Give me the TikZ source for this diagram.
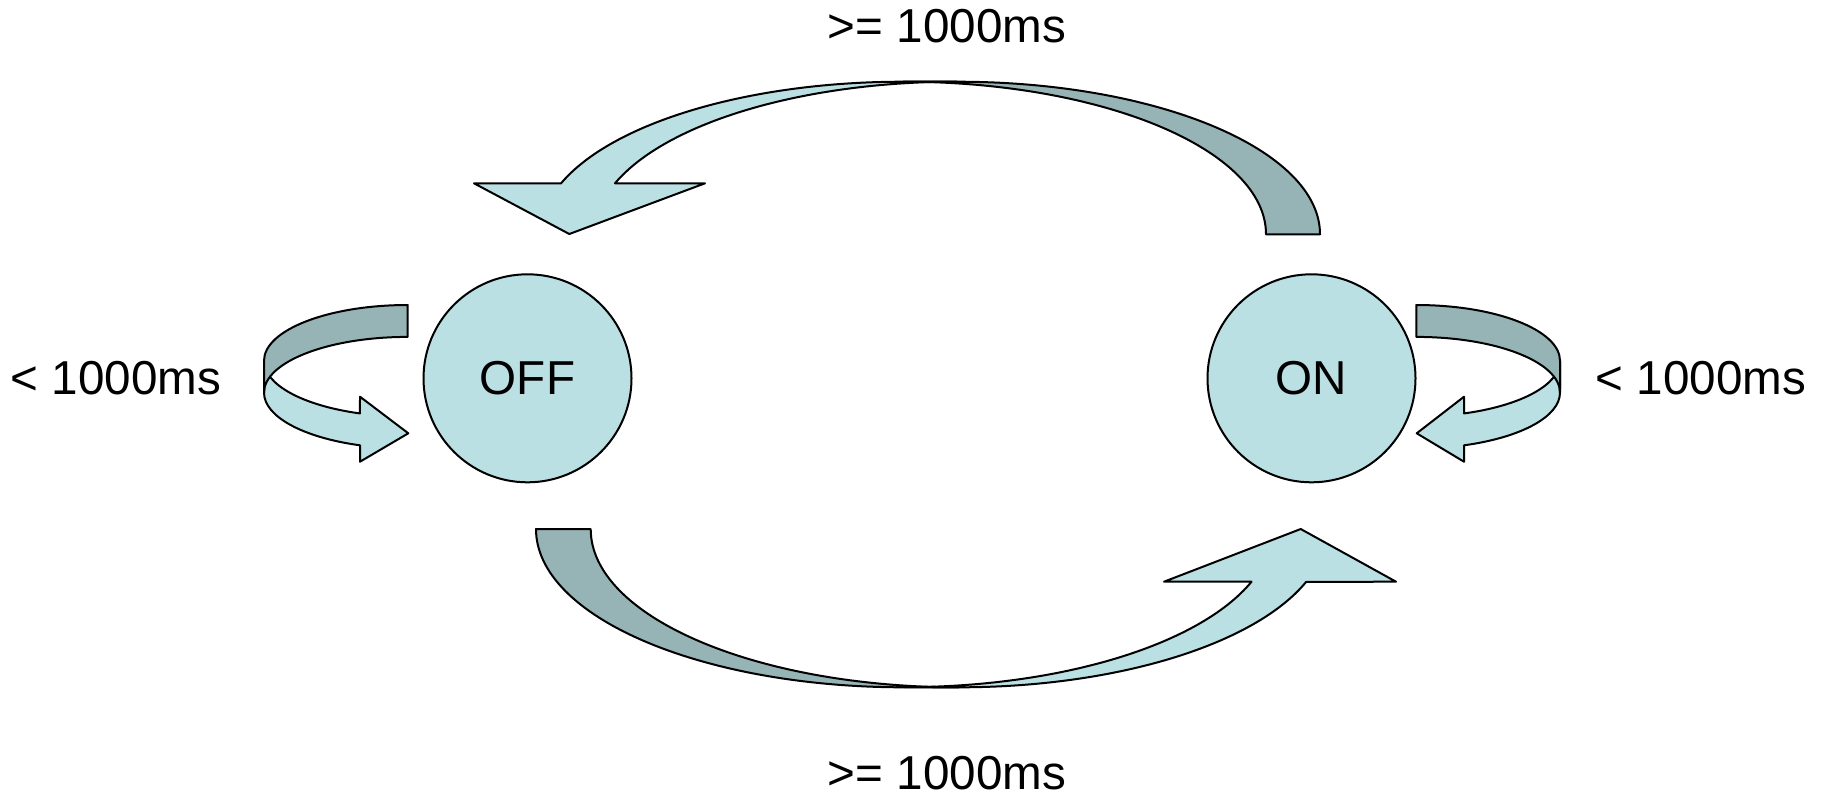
\documentclass[tikz,border=0pt]{standalone}
\usepackage{fontspec}
\setmainfont{Liberation Sans}
\definecolor{bandlight}{RGB}{187,224,228}
\definecolor{banddark}{RGB}{150,179,182}
\newcommand\statefont{\fontsize{23.8}{28}\selectfont}

\begin{document}
\begin{tikzpicture}[x=0.5pt,y=0.5pt,
  front/.style={fill=bandlight,draw=black,line width=1pt,line join=round},
  back/.style={fill=banddark,draw=black,line width=1pt,line join=round},
  state/.style={circle,draw=black,line width=1pt,fill=bandlight,
    minimum size=104pt,inner sep=0pt,font=\statefont},
  lbl/.style={font=\statefont,inner sep=0pt}]

\useasboundingbox (0,0) rectangle (1824,-799);

% states
\node[state] (off) at (527.5,-378.3) {OFF};
\node[state] (on)  at (1311.5,-378.3) {ON};

% labels
\node[lbl] (ltop)   at (947,-26)   {>= 1000ms};
\node[lbl] (lbot)   at (947,-773)  {>= 1000ms};
\node[lbl] (lleft)  at (116,-378)  {< 1000ms};
\node[lbl] (lright) at (1701,-378) {< 1000ms};

% ON -> OFF : curved band over the top, head at the left
\draw[front] (903.1,-81.7)
  arc[start angle=90,end angle=160.5,x radius=362.9,y radius=152.6]
  -- (474,-183.3) -- (569.3,-234) -- (705,-183.3) -- (615,-183.3)
  arc[start angle=160.5,end angle=90,x radius=362.9,y radius=152.6]
  -- cycle;
\draw[back] (1320,-234.3)
  arc[start angle=0,end angle=90,x radius=362.9,y radius=152.6]
  -- (903.1,-81.7)
  arc[start angle=90,end angle=0,x radius=362.9,y radius=152.6]
  -- cycle;

% OFF -> ON : curved band under the bottom, head at the right
\draw[front] (959,-687.3)
  arc[start angle=270,end angle=340.5,x radius=368.3,y radius=158.3]
  -- (1396,-581.7) -- (1300.7,-529) -- (1164,-581.7) -- (1251.5,-581.7)
  arc[start angle=340.5,end angle=270,x radius=368.3,y radius=158.3]
  -- cycle;
\draw[back] (536,-529)
  arc[start angle=180,end angle=270,x radius=368.3,y radius=158.3]
  -- (959,-687.3)
  arc[start angle=270,end angle=180,x radius=368.3,y radius=158.3]
  -- cycle;

% OFF self loop
\draw[front] (264,-360.8)
  arc[start angle=180,end angle=250.6,x radius=143.7,y radius=55.8]
  -- (360,-396.7) -- (408.3,-433.3) -- (360,-461.7) -- (360,-445.3)
  arc[start angle=250.6,end angle=180,x radius=143.7,y radius=55.8]
  -- cycle;
\draw[back] (407.7,-305)
  arc[start angle=90,end angle=180,x radius=143.7,y radius=55.8]
  -- (264,-392.7)
  arc[start angle=180,end angle=90,x radius=143.7,y radius=55.8]
  -- cycle;

% ON self loop
\draw[front] (1560,-360.8)
  arc[start angle=0,end angle=-70.6,x radius=143.7,y radius=55.8]
  -- (1464,-396.7) -- (1416.7,-433.3) -- (1464,-461.7) -- (1464,-445.3)
  arc[start angle=-70.6,end angle=0,x radius=143.7,y radius=55.8]
  -- cycle;
\draw[back] (1416.3,-305)
  arc[start angle=90,end angle=0,x radius=143.7,y radius=55.8]
  -- (1560,-392.7)
  arc[start angle=0,end angle=90,x radius=143.7,y radius=55.8]
  -- cycle;

\end{tikzpicture}
\end{document}
